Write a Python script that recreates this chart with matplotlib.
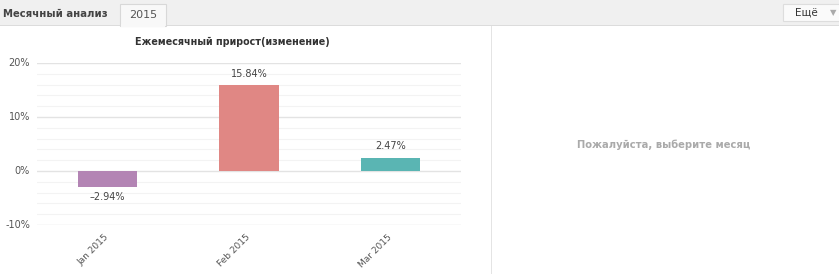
import numpy as np
import matplotlib.pyplot as plt
from matplotlib.patches import Rectangle
from matplotlib.ticker import MultipleLocator, FuncFormatter

# данные
months = ['Jan 2015', 'Feb 2015', 'Mar 2015']
growth = [-2.94, 15.84, 2.47]
bar_colors = ['#b384b4', '#e08784', '#5ab5b3']

W, H = 839, 274
fig = plt.figure(figsize=(W / 100, H / 100), dpi=100)
fig.patch.set_facecolor('white')


def px_rect(x0, y0, x1, y1, **kw):
    """прямоугольник в пикселях (y сверху вниз)"""
    r = Rectangle((x0 / W, 1 - y1 / H), (x1 - x0) / W, (y1 - y0) / H,
                  transform=fig.transFigure, **kw)
    fig.add_artist(r)


def px_text(x, y, s, **kw):
    fig.text(x / W, 1 - y / H, s, **kw)


# шапка
px_rect(0, 0, W, 25, facecolor='#f0f0f0', edgecolor='none')
px_rect(0, 25, W, 26, facecolor='#dcdcdc', edgecolor='none')
px_rect(120, 4, 166, 26, facecolor='#f8f8f8', edgecolor='#d8d8d8', linewidth=0.8)
px_rect(121, 24, 165, 27, facecolor='#f8f8f8', edgecolor='none')
px_text(3, 14, 'Месячный анализ', fontsize=7.3, fontweight='bold', color='#444444',
        ha='left', va='center')
px_text(143, 15, '2015', fontsize=8, color='#555555', ha='center', va='center')
px_rect(783, 4, 842, 21, facecolor='#fafafa', edgecolor='#dddddd', linewidth=0.8)
px_text(806, 13, 'Ещё', fontsize=7.5, color='#333333', ha='center', va='center')
px_text(833, 13, '▼', fontsize=6, color='#aaaaaa', ha='center', va='center')

# разделитель
px_rect(491, 26, 492, H, facecolor='#e4e4e4', edgecolor='none')
px_text(664, 145, 'Пожалуйста, выберите месяц', fontsize=7.2, fontweight='bold',
        color='#aaaaaa', ha='center', va='center')

# график
ax = fig.add_axes([37 / W, 1 - 225 / H, (461 - 37) / W, (225 - 63) / H])
x = np.arange(len(months))
ax.bar(x, growth, width=0.42, color=bar_colors, zorder=3)
ax.set_xlim(-0.5, len(months) - 0.5)
ax.set_ylim(-10, 20)

ax.yaxis.set_major_locator(MultipleLocator(10))
ax.yaxis.set_minor_locator(MultipleLocator(2))
ax.yaxis.set_major_formatter(FuncFormatter(lambda v, p: f'{v:.0f}%'))
ax.grid(True, which='major', axis='y', color='#e3e3e3', linewidth=1.0, zorder=0)
ax.grid(True, which='minor', axis='y', color='#f3f3f3', linewidth=0.8, zorder=0)
ax.tick_params(axis='y', which='both', length=0, labelsize=7, labelcolor='#555555', pad=5)
for lbl in ax.get_yticklabels():
    lbl.set_verticalalignment('center')

ax.set_xticks(x)
ax.set_xticklabels(months, rotation=45, ha='right', va='center', rotation_mode='anchor',
                   fontsize=6.5, color='#555555')
ax.tick_params(axis='x', length=0, pad=8)

for s in ax.spines.values():
    s.set_visible(False)

for xi, v in zip(x, growth):
    if v >= 0:
        ax.annotate(f'{v:.2f}%', (xi, v), xytext=(0, 5), textcoords='offset points',
                    ha='center', va='bottom', fontsize=7, color='#444444')
    else:
        ax.annotate(f'–{abs(v):.2f}%', (xi, v), xytext=(0, -4), textcoords='offset points',
                    ha='center', va='top', fontsize=7, color='#444444')

px_text(232, 42, 'Ежемесячный прирост(изменение)', fontsize=6.9, fontweight='bold',
        color='#333333', ha='center', va='center')

fig.savefig('out.png', dpi=100)
